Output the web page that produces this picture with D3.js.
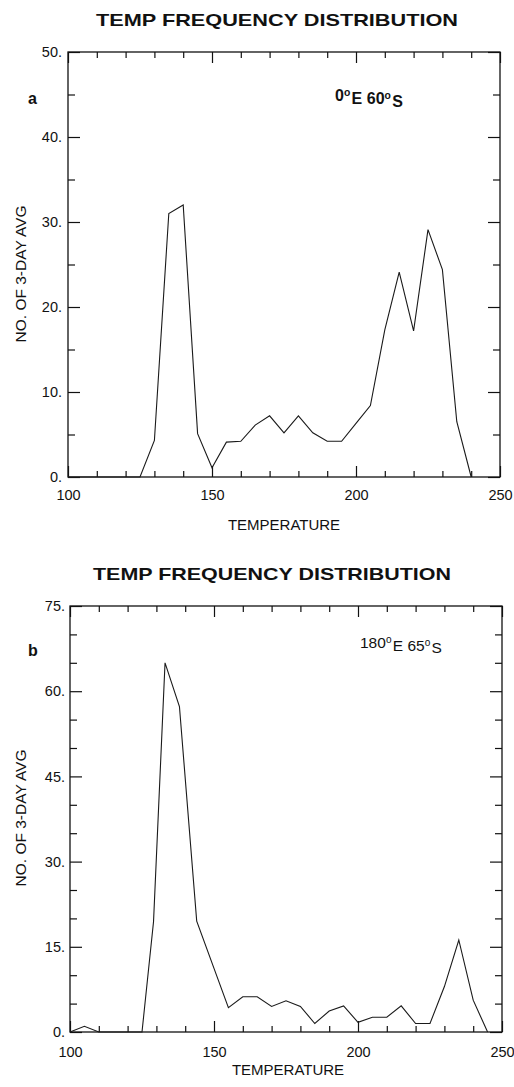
<!DOCTYPE html>
<html>
<head>
<meta charset="utf-8">
<script src="https://cdn.jsdelivr.net/npm/d3@7"></script>
<style>
  html, body { margin: 0; padding: 0; background: #fff; }
  svg { display: block; }
  text { font-family: "Liberation Sans", Arial, sans-serif; fill: #111; }
</style>
</head>
<body>
<svg id="chart" width="514" height="1087"></svg>
<script>
// ---------- data ----------
const chartTitle = "TEMP FREQUENCY DISTRIBUTION";
const xLabel = "TEMPERATURE";
const yLabel = "NO. OF 3-DAY AVG";
const xLabelTicks = [100, 150, 200, 250];
const xMinorTicks = [100, 110, 120, 130, 140, 150, 160, 170, 180, 190, 200, 210, 220, 230, 240, 250];

// panel a : 0°E 60°S
const yLabelTicksA = [0, 10, 20, 30, 40, 50];
const yMinorTicksA = [0, 5, 10, 15, 20, 25, 30, 35, 40, 45, 50];
const tempA   = [100, 105, 110, 115, 120, 125, 130, 135, 140, 145, 150, 155, 160, 165, 170, 175, 180, 185, 190, 195, 200, 205, 210, 215, 220, 225, 230, 235, 240];
const countsA = [0, 0, 0, 0, 0, 0, 4.3, 31, 32, 5.1, 1.1, 4.1, 4.2, 6.1, 7.2, 5.2, 7.2, 5.2, 4.2, 4.2, 6.3, 8.4, 17.3, 24.1, 17.2, 29.1, 24.4, 6.5, 0];

// panel b : 180°E 65°S
const yLabelTicksB = [0, 15, 30, 45, 60, 75];
const yMinorTicksB = [0, 5, 10, 15, 20, 25, 30, 35, 40, 45, 50, 55, 60, 65, 70, 75];
const tempB   = [100, 105, 110, 115, 120, 125, 129, 133, 138, 144, 150, 155, 160, 165, 170, 175, 180, 185, 190, 195, 200, 205, 210, 215, 220, 225, 230, 235, 240, 245];
const countsB = [0, 1, 0, 0, 0, 0, 19.4, 65, 57.3, 19.5, 11.2, 4.3, 6.2, 6.2, 4.5, 5.5, 4.5, 1.5, 3.7, 4.6, 1.7, 2.6, 2.6, 4.6, 1.5, 1.5, 8, 16.2, 5.6, 0];

const svg = d3.select("#chart");

function drawPanel(p) {
  const x = d3.scaleLinear().domain([100, 250]).range([p.left, p.right]);
  const y = d3.scaleLinear().domain([0, p.yMax]).range([p.bottom, p.top]);
  const g = svg.append("g");

  // title
  g.append("text")
    .attr("x", p.titleX).attr("y", p.titleY)
    .attr("text-anchor", "middle")
    .attr("textLength", p.titleW).attr("lengthAdjust", "spacingAndGlyphs")
    .style("font-family", "'Liberation Sans', Arial, sans-serif")
    .style("font-weight", "bold").style("font-size", "17px")
    .text(chartTitle);

  // frame
  g.append("rect")
    .attr("x", x(100)).attr("y", y(p.yMax))
    .attr("width", x(250) - x(100)).attr("height", y(0) - y(p.yMax))
    .attr("fill", "none").attr("stroke", "#111").attr("stroke-width", 1.3);

  const minorX = xMinorTicks.filter(d => !xLabelTicks.includes(d));
  const minorY = p.yMinor.filter(d => !p.yTicks.includes(d));

  // bottom axis: minor + major (labelled)
  const bx = g.append("g").attr("transform", `translate(0,${y(0)})`);
  bx.call(d3.axisBottom(x).tickValues(minorX).tickSize(-6).tickFormat(""));
  const bxm = g.append("g").attr("transform", `translate(0,${y(0)})`);
  bxm.call(d3.axisBottom(x).tickValues(xLabelTicks).tickSize(-11).tickPadding(p.xPad).tickFormat(d3.format("d")));
  // top axis (no labels)
  const tx = g.append("g").attr("transform", `translate(0,${y(p.yMax)})`);
  tx.call(d3.axisTop(x).tickValues(minorX).tickSize(-6).tickFormat(""));
  const txm = g.append("g").attr("transform", `translate(0,${y(p.yMax)})`);
  txm.call(d3.axisTop(x).tickValues(xLabelTicks).tickSize(-11).tickFormat(""));
  // left axis
  const ly = g.append("g").attr("transform", `translate(${x(100)},0)`);
  ly.call(d3.axisLeft(y).tickValues(minorY).tickSize(-7).tickFormat(""));
  const lym = g.append("g").attr("transform", `translate(${x(100)},0)`);
  lym.call(d3.axisLeft(y).tickValues(p.yTicks).tickSize(-12).tickPadding(p.yPad).tickFormat(d => d + "."));
  // right axis
  const ry = g.append("g").attr("transform", `translate(${x(250)},0)`);
  ry.call(d3.axisRight(y).tickValues(minorY).tickSize(-7).tickFormat(""));
  const rym = g.append("g").attr("transform", `translate(${x(250)},0)`);
  rym.call(d3.axisRight(y).tickValues(p.yTicks).tickSize(-12).tickFormat(""));

  [bx, bxm, tx, txm, ly, lym, ry, rym].forEach(a => {
    a.select(".domain").remove();
    a.selectAll("line").attr("stroke", "#111").attr("stroke-width", 1.2);
    a.selectAll("text").style("font-family", "'Liberation Sans', Arial, sans-serif")
      .style("font-size", "14.5px").attr("fill", "#111");
  });

  // data line
  const pts = p.temps.map((t, i) => [t, p.counts[i]]);
  g.append("path")
    .datum(pts)
    .attr("fill", "none").attr("stroke", "#1a1a1a").attr("stroke-width", 1.1)
    .attr("stroke-linejoin", "miter")
    .attr("d", d3.line().x(d => x(d[0])).y(d => y(d[1])));

  // axis labels
  g.append("text")
    .attr("x", p.xLabelX).attr("y", p.xLabelY)
    .attr("text-anchor", "middle").style("font-size", "15px")
    .text(xLabel);
  g.append("text")
    .attr("transform", `translate(${p.yLabelX},${p.yLabelY}) rotate(-90)`)
    .attr("text-anchor", "middle").style("font-size", "15.5px")
    .text(yLabel);

  // panel letter
  g.append("text")
    .attr("x", 28).attr("y", p.letterY)
    .style("font-size", "16px").style("font-weight", "bold")
    .text(p.letter);

  // location label
  const loc = g.append("text")
    .attr("x", p.locX).attr("y", p.locY)
    .style("font-size", p.locSize).style("font-weight", p.locWeight);
  p.locParts.forEach(part => {
    if (part.sup) {
      loc.append("tspan").attr("dy", "-0.5em").style("font-size", "0.65em").text(part.t);
      loc.append("tspan").attr("dy", "0.5em").text("\u200A");
    } else {
      loc.append("tspan").text(part.t);
    }
  });
}

drawPanel({
  left: 68, right: 500, top: 52, bottom: 477, yMax: 50,
  yTicks: yLabelTicksA, yMinor: yMinorTicksA,
  temps: tempA, counts: countsA,
  titleX: 277, titleY: 26, titleW: 362,
  xPad: 13, yPad: 6,
  xLabelX: 284, xLabelY: 530,
  yLabelX: 26, yLabelY: 274,
  letter: "a", letterY: 104,
  locX: 335, locY: 101, locSize: "16px", locWeight: "bold",
  locParts: [{t: "0"}, {t: "o", sup: true}, {t: "E 60"}, {t: "o", sup: true}, {t: "S"}]
});

drawPanel({
  left: 70, right: 502, top: 606, bottom: 1032, yMax: 75,
  yTicks: yLabelTicksB, yMinor: yMinorTicksB,
  temps: tempB, counts: countsB,
  titleX: 272, titleY: 580, titleW: 358,
  xPad: 15, yPad: 5,
  xLabelX: 288, xLabelY: 1075,
  yLabelX: 26, yLabelY: 818,
  letter: "b", letterY: 656,
  locX: 360, locY: 648, locSize: "15.5px", locWeight: "normal",
  locParts: [{t: "180"}, {t: "o", sup: true}, {t: "E  65"}, {t: "o", sup: true}, {t: "S"}]
});
</script>
</body>
</html>
